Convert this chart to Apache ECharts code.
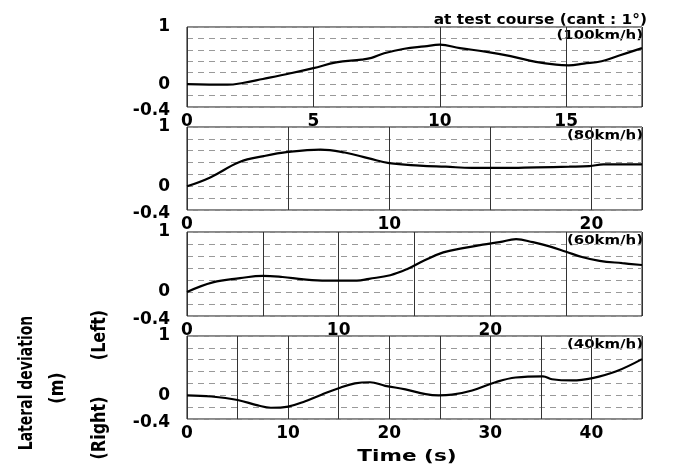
<!DOCTYPE html>
<html>
<head>
<meta charset="utf-8">
<script src="https://cdn.jsdelivr.net/npm/echarts@6/dist/echarts.min.js"></script>
<style>html,body{margin:0;padding:0;background:#fff}#c{width:683px;height:466px}</style>
</head>
<body>
<div id="c"></div>
<script>
// Panel data (time s, lateral deviation m)
const t100 = [0, 1.6, 2.2, 3.0, 4.1, 5.0, 5.9, 6.9, 7.3, 7.8, 8.6, 9.4, 10.0, 10.8, 11.8, 12.8, 13.8, 14.6, 15.1, 15.7, 16.4, 17.1, 18.0];
const d100 = [0, -0.01, 0.02, 0.09, 0.19, 0.28, 0.38, 0.43, 0.46, 0.54, 0.62, 0.66, 0.69, 0.63, 0.57, 0.49, 0.39, 0.34, 0.33, 0.36, 0.40, 0.50, 0.63];
const t80 = [0, 1.15, 2.6, 3.8, 5.0, 6.6, 7.8, 9.0, 10.0, 11.5, 12.8, 14.1, 15.6, 17.3, 18.9, 19.9, 20.6, 22.5];
const d80 = [0, 0.15, 0.41, 0.51, 0.58, 0.62, 0.57, 0.47, 0.39, 0.35, 0.33, 0.31, 0.31, 0.32, 0.33, 0.34, 0.37, 0.37];
const t60 = [0, 1.7, 3.5, 5.0, 6.3, 7.7, 9.2, 11.2, 12.0, 13.4, 14.5, 15.6, 16.9, 18.2, 19.5, 20.6, 21.7, 22.8, 23.9, 25.0, 26.1, 27.2, 28.7, 30.0];
const d60 = [0, 0.16, 0.23, 0.27, 0.25, 0.21, 0.19, 0.19, 0.22, 0.28, 0.38, 0.52, 0.66, 0.73, 0.79, 0.83, 0.88, 0.83, 0.76, 0.67, 0.58, 0.52, 0.48, 0.45];
const t40 = [0, 2.4, 5.0, 7.0, 8.3, 10.0, 11.7, 13.3, 15.0, 16.6, 18.1, 19.6, 21.6, 23.6, 24.9, 26.2, 28.2, 30.5, 32.5, 35.2, 36.1, 38.1, 40.1, 42.4, 45.0];
const d40 = [0, -0.02, -0.08, -0.17, -0.21, -0.19, -0.10, 0.01, 0.12, 0.20, 0.22, 0.16, 0.10, 0.02, 0.00, 0.01, 0.08, 0.22, 0.30, 0.32, 0.27, 0.25, 0.29, 0.40, 0.61];

const xMax = [18, 22.5, 30, 45];
const xLabelStep = [5, 10, 10, 10];
const speedLabels = ['(100km/h)', '(80km/h)', '(60km/h)', '(40km/h)'];
const yTickLabels = ['1', '0', '-0.4'];
const titleText = 'at test course (cant : 1°)';
const xTitle = 'Time (s)';

const times = [t100, t80, t60, t40];
const devs = [d100, d80, d60, d40];

const grids = [
  {left: 187, width: 455, top: 27, height: 80},
  {left: 187, width: 455, top: 127, height: 83},
  {left: 187, width: 455, top: 232, height: 84},
  {left: 187, width: 455, top: 336, height: 83}
];
const FONT = 'DejaVu Sans';

const option = {
  animation: false,
  backgroundColor: '#fff',
  grid: grids.map(g => Object.assign({show: true, borderColor: '#111', borderWidth: 1, backgroundColor: 'transparent'}, g)),
  xAxis: grids.map((g, i) => ({
    type: 'value', gridIndex: i, min: 0, max: xMax[i], interval: 5,
    axisLine: {show: false}, axisTick: {show: false},
    axisLabel: {
      margin: 6, color: '#000', fontFamily: FONT, fontWeight: 'bold', fontSize: 17,
      showMaxLabel: false,
      formatter: v => (Math.abs(v / xLabelStep[i] - Math.round(v / xLabelStep[i])) < 1e-6) ? String(Math.round(v)) : ''
    },
    splitLine: {show: true, lineStyle: {color: '#333', width: 1}}
  })),
  yAxis: grids.map((g, i) => ({
    type: 'value', gridIndex: i, min: -0.4, max: 1, interval: 0.2,
    axisLine: {show: false}, axisTick: {show: false},
    axisLabel: {
      margin: 17, color: '#000', fontFamily: FONT, fontWeight: 'bold', fontSize: 17,
      formatter: v => {
        if (Math.abs(v - 1) < 1e-6) return yTickLabels[0];
        if (Math.abs(v) < 1e-6) return yTickLabels[1];
        if (Math.abs(v + 0.4) < 1e-6) return '{lo|' + yTickLabels[2] + '}';
        return '';
      },
      rich: {lo: {padding: [8, 0, 0, 0], fontFamily: FONT, fontWeight: 'bold', fontSize: 17, color: '#000'}}
    },
    splitLine: {show: true, lineStyle: {color: '#999', width: 1, type: [6, 5]}}
  })),
  series: times.map((t, i) => ({
    type: 'line', xAxisIndex: i, yAxisIndex: i, smooth: 0.4, showSymbol: false,
    lineStyle: {color: '#000', width: 2.2},
    data: t.map((x, k) => [x, devs[i][k]])
  })),
  graphic: [
    {type: 'text', x: 647, y: 20, scaleX: 1.1, style: {text: titleText, font: 'bold 14px "DejaVu Sans"', fill: '#000', align: 'right', verticalAlign: 'middle'}},
    ...speedLabels.map((s, i) => ({
      type: 'text', x: 643, y: grids[i].top + 9, scaleX: 1.15,
      style: {text: s, font: 'bold 13px "DejaVu Sans"', fill: '#000', align: 'right', verticalAlign: 'middle'}
    })),
    {type: 'text', x: 407, y: 457, scaleX: 1.35, style: {text: xTitle, font: 'bold 16px "DejaVu Sans"', fill: '#000', align: 'center', verticalAlign: 'middle'}},
    {type: 'text', x: 27, y: 383, rotation: Math.PI / 2, scaleX: 0.7, style: {text: 'Lateral deviation', font: 'bold 20px "DejaVu Sans"', fill: '#000', align: 'center', verticalAlign: 'middle'}},
    {type: 'text', x: 58, y: 388, rotation: Math.PI / 2, scaleX: 0.8, style: {text: '(m)', font: 'bold 20px "DejaVu Sans"', fill: '#000', align: 'center', verticalAlign: 'middle'}},
    {type: 'text', x: 100, y: 335, rotation: Math.PI / 2, scaleX: 0.8, style: {text: '(Left)', font: 'bold 20px "DejaVu Sans"', fill: '#000', align: 'center', verticalAlign: 'middle'}},
    {type: 'text', x: 100, y: 428, rotation: Math.PI / 2, scaleX: 0.8, style: {text: '(Right)', font: 'bold 20px "DejaVu Sans"', fill: '#000', align: 'center', verticalAlign: 'middle'}}
  ]
};
const chart = echarts.init(document.getElementById('c'), null, {renderer: 'canvas'});
chart.setOption(option);
</script>
</body>
</html>
